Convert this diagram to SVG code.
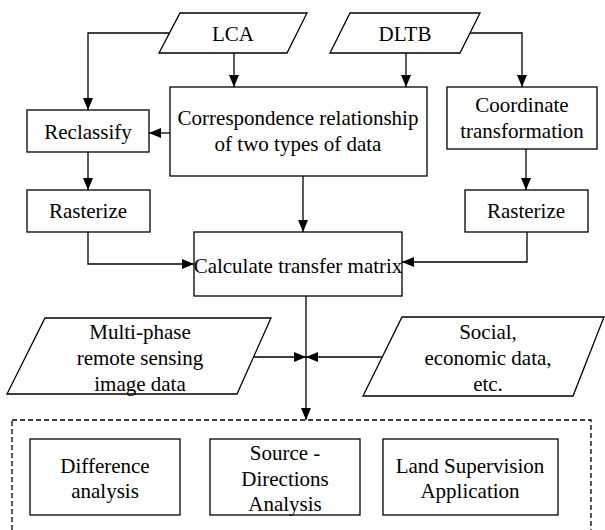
<svg xmlns="http://www.w3.org/2000/svg" width="605" height="530" viewBox="0 0 605 530">
<style>
.s{fill:#fff;stroke:#000;stroke-width:1.3}
.c{fill:none;stroke:#000;stroke-width:1.3}
.t{font-family:'Liberation Serif','DejaVu Serif',serif;font-size:21px;fill:#000;text-anchor:middle}
.d{fill:none;stroke:#000;stroke-width:1.3;stroke-dasharray:5 3}
</style>
<defs>
<marker id="a" markerUnits="userSpaceOnUse" markerWidth="12" markerHeight="12" viewBox="0 0 12 12" refX="12" refY="6" orient="auto">
<path d="M0,1 L12,6 L0,11 Z" fill="#000"/>
</marker>
</defs>
<rect width="605" height="530" fill="#fff"/>
<g id="group-box"><rect class="d" x="12" y="420" width="579" height="120"/></g>
<g id="connectors">
<polyline class="c" points="169,33 88,33 88,110" marker-end="url(#a)"/>
<line class="c" x1="234" y1="53" x2="234" y2="87" marker-end="url(#a)"/>
<line class="c" x1="406" y1="53" x2="406" y2="87" marker-end="url(#a)"/>
<polyline class="c" points="470,33 522,33 522,87" marker-end="url(#a)"/>
<line class="c" x1="170" y1="133" x2="149" y2="133" marker-end="url(#a)"/>
<line class="c" x1="88" y1="152" x2="88" y2="190" marker-end="url(#a)"/>
<line class="c" x1="526" y1="149" x2="526" y2="190" marker-end="url(#a)"/>
<line class="c" x1="303" y1="176" x2="303" y2="232" marker-end="url(#a)"/>
<polyline class="c" points="88,232 88,264 194,264" marker-end="url(#a)"/>
<polyline class="c" points="527,232 527,262 402,262" marker-end="url(#a)"/>
<line class="c" x1="306" y1="296" x2="306" y2="420" marker-end="url(#a)"/>
<line class="c" x1="253" y1="357" x2="306" y2="357" marker-end="url(#a)"/>
<line class="c" x1="382" y1="357" x2="306" y2="357" marker-end="url(#a)"/>
</g>
<g font-family="Liberation Serif, DejaVu Serif, serif">
<g id="lca"><polygon class="s" points="180,13 307,13 287,53 159,53"/><text class="t" x="233" y="41">LCA</text></g>
<g id="dltb"><polygon class="s" points="350,13 480,13 460,53 330,53"/><text class="t" x="405" y="41">DLTB</text></g>
<g id="correspondence"><rect class="s" x="170" y="87" width="257" height="89"/><text class="t" x="298" y="125">Correspondence relationship</text><text class="t" x="298" y="151">of two types of data</text></g>
<g id="reclassify"><rect class="s" x="27" y="110" width="122" height="42"/><text class="t" x="88" y="139">Reclassify</text></g>
<g id="coordinate"><rect class="s" x="447" y="87" width="150" height="62"/><text class="t" x="522" y="112">Coordinate</text><text class="t" x="522" y="138">transformation</text></g>
<g id="rasterize-left"><rect class="s" x="27" y="190" width="123" height="42"/><text class="t" x="88" y="218">Rasterize</text></g>
<g id="rasterize-right"><rect class="s" x="465" y="190" width="123" height="42"/><text class="t" x="526" y="218">Rasterize</text></g>
<g id="calculate"><rect class="s" x="194" y="232" width="208" height="64"/><text class="t" x="298" y="273">Calculate transfer matrix</text></g>
<g id="multi-phase"><polygon class="s" points="45,318 271,318 237,394 7,394"/><text class="t" x="140" y="339">Multi-phase</text><text class="t" x="140" y="365">remote sensing</text><text class="t" x="140" y="391">image data</text></g>
<g id="social"><polygon class="s" points="402,317 604,317 573,396 363,396"/><text class="t" x="488" y="339">Social,</text><text class="t" x="488" y="365">economic data,</text><text class="t" x="488" y="391">etc.</text></g>
<g id="difference"><rect class="s" x="30" y="439" width="150" height="76"/><text class="t" x="105" y="473">Difference</text><text class="t" x="105" y="498">analysis</text></g>
<g id="source"><rect class="s" x="210" y="439" width="150" height="76"/><text class="t" x="285" y="460">Source -</text><text class="t" x="285" y="486">Directions</text><text class="t" x="285" y="511">Analysis</text></g>
<g id="land"><rect class="s" x="383" y="439" width="175" height="76"/><text class="t" x="470" y="473">Land Supervision</text><text class="t" x="470" y="498">Application</text></g>
</g>
</svg>
